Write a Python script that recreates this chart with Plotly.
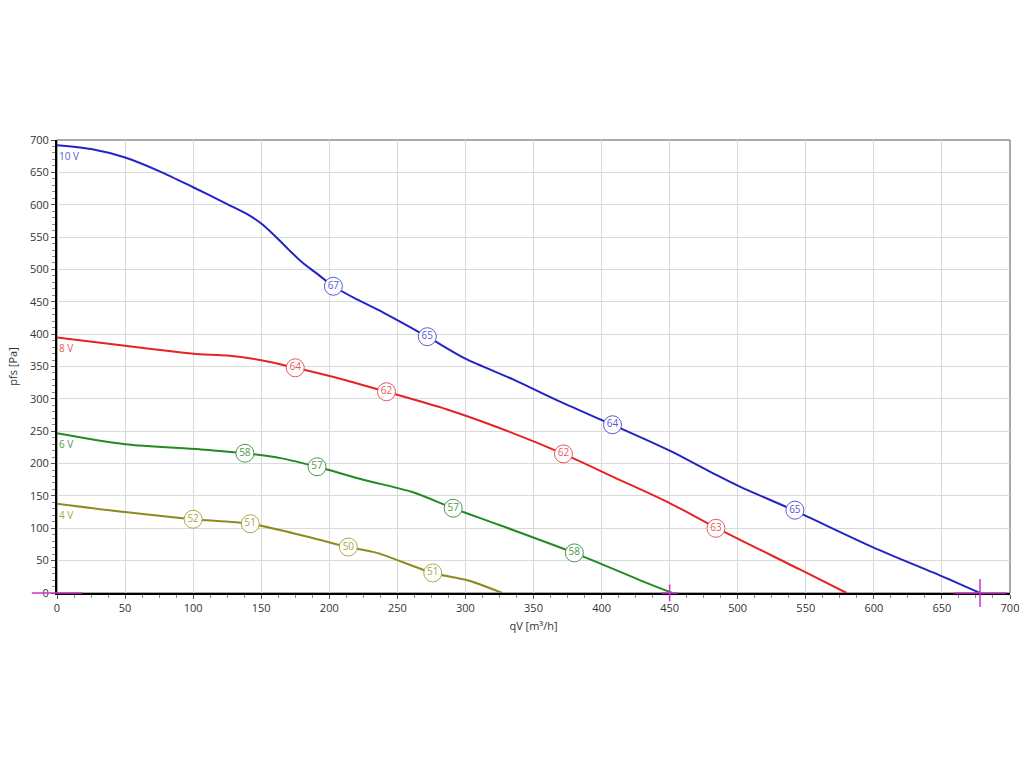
import plotly.graph_objects as go

# ---- data ----
blue_x = [0, 25, 50, 75, 100, 125, 140, 150, 160, 170, 180, 190, 203, 220, 240, 272, 300, 335, 367, 408, 450, 482, 502, 541, 599, 651, 678]
blue_y = [692, 686, 673, 652, 627, 601, 585, 571, 552, 531, 511, 495, 474, 454, 433, 396, 362, 330, 298, 260, 220, 185, 164, 128, 71, 25, 0]

red_x = [0, 50, 90, 105, 125, 149, 175, 210, 242, 286, 325, 372, 410, 450, 485, 546, 580]
red_y = [395, 382, 372, 369, 367, 360, 348, 330, 311, 284, 255, 215, 178, 139, 100, 36, 0]

green_x = [0, 50, 105, 138, 165, 191, 225, 261, 291, 325, 380, 428, 452]
green_y = [247, 230, 222, 216, 208, 195, 175, 156, 131, 105, 62, 20, 0]

olive_x = [0, 50, 100, 142, 184, 214, 235, 276, 301, 327]
olive_y = [138, 125, 114, 107, 87, 71, 62, 31, 20, 0]

blue_lbl_x = [203, 272, 408, 542]
blue_lbl_y = [474, 396, 260, 128]
blue_lbl = ["67", "65", "64", "65"]

red_lbl_x = [175, 242, 372, 484]
red_lbl_y = [348, 311, 215, 100]
red_lbl = ["64", "62", "62", "63"]

green_lbl_x = [138, 191, 291, 380]
green_lbl_y = [216, 195, 131, 62]
green_lbl = ["58", "57", "57", "58"]

olive_lbl_x = [100, 142, 214, 276]
olive_lbl_y = [114, 107, 71, 31]
olive_lbl = ["52", "51", "50", "51"]

series_names = ["10 V", "8 V", "6 V", "4 V"]
x_ticks = list(range(0, 701, 50))
y_ticks = list(range(0, 701, 50))

FONT = "Open Sans"
colors = ["#2323c8", "#e62222", "#218a21", "#8c8c1e"]
light = ["#5a5ad8", "#e85a5a", "#4a9a4a", "#a8a848"]

fig = go.Figure()

series = [
    (blue_x, blue_y, blue_lbl_x, blue_lbl_y, blue_lbl),
    (red_x, red_y, red_lbl_x, red_lbl_y, red_lbl),
    (green_x, green_y, green_lbl_x, green_lbl_y, green_lbl),
    (olive_x, olive_y, olive_lbl_x, olive_lbl_y, olive_lbl),
]

for i, (sx, sy, lx, ly, lt) in enumerate(series):
    fig.add_trace(go.Scatter(x=sx, y=sy, mode="lines",
                             line=dict(color=colors[i], width=2, shape="spline", smoothing=0.8),
                             hoverinfo="skip", showlegend=False))
for i, (sx, sy, lx, ly, lt) in enumerate(series):
    fig.add_trace(go.Scatter(x=lx, y=ly, mode="markers+text", text=lt,
                             textposition="middle center",
                             textfont=dict(family=FONT, size=10, color=light[i]),
                             marker=dict(size=18, color="white", line=dict(color=light[i], width=1)),
                             hoverinfo="skip", showlegend=False))
    fig.add_annotation(x=0, y=sy[0], text=series_names[i], showarrow=False,
                       xanchor="left", yanchor="top", xshift=0, yshift=-2,
                       font=dict(family=FONT, size=10, color=light[i]))

# operating point markers (magenta)
mag = "#cc33cc"
fig.add_trace(go.Scatter(x=[0], y=[0], mode="markers", cliponaxis=False,
                         marker=dict(symbol="line-ew", size=36, line=dict(color=mag, width=1.5)),
                         hoverinfo="skip", showlegend=False))
fig.add_trace(go.Scatter(x=[450], y=[0], mode="markers", cliponaxis=False,
                         marker=dict(symbol="cross-thin", size=12, line=dict(color=mag, width=1.5)),
                         hoverinfo="skip", showlegend=False))
fig.add_trace(go.Scatter(x=[678], y=[0], mode="markers", cliponaxis=False,
                         marker=dict(symbol="line-ew", size=38, line=dict(color=mag, width=1.5)),
                         hoverinfo="skip", showlegend=False))
fig.add_trace(go.Scatter(x=[678], y=[0], mode="markers", cliponaxis=False,
                         marker=dict(symbol="line-ns", size=20, line=dict(color=mag, width=1.5)),
                         hoverinfo="skip", showlegend=False))

fig.add_shape(type="rect", xref="paper", yref="paper", x0=0, y0=0, x1=1, y1=1,
              line=dict(color="#555555", width=1), layer="below")

fig.update_layout(
    width=1024, height=768,
    margin=dict(l=57, r=14, t=140, b=175),
    paper_bgcolor="white", plot_bgcolor="white",
    font=dict(family=FONT, size=11, color="#333333"),
    showlegend=False,
)
fig.update_xaxes(range=[0, 700], tickvals=x_ticks, showgrid=True, gridcolor="#d9d9d9", gridwidth=1,
                 showline=True, linecolor="black", linewidth=2, zeroline=False, automargin=False,
                 layer="below traces",
                 ticks="outside", ticklen=4, tickcolor="#555555",
                 minor=dict(dtick=12.5, ticks="outside", ticklen=3, tickcolor="#888888", showgrid=False),
                 title=dict(text="qV [m³/h]", font=dict(family=FONT, size=11, color="#333333"), standoff=8),
                 tickfont=dict(family=FONT, size=11, color="#333333"))
fig.update_yaxes(range=[0, 700], tickvals=y_ticks, showgrid=True, gridcolor="#d9d9d9", gridwidth=1,
                 showline=True, linecolor="black", linewidth=2, zeroline=False, automargin=False,
                 layer="below traces",
                 ticks="outside", ticklen=4, tickcolor="#555555",
                 minor=dict(dtick=10, ticks="outside", ticklen=3, tickcolor="#888888", showgrid=False),
                 title=dict(text="pfs [Pa]", font=dict(family=FONT, size=11, color="#333333"), standoff=10),
                 tickfont=dict(family=FONT, size=11, color="#333333"))

fig.write_html("out.html", config={"displayModeBar": False},
               post_script="document.body.style.margin='0';document.body.style.overflow='hidden';")
